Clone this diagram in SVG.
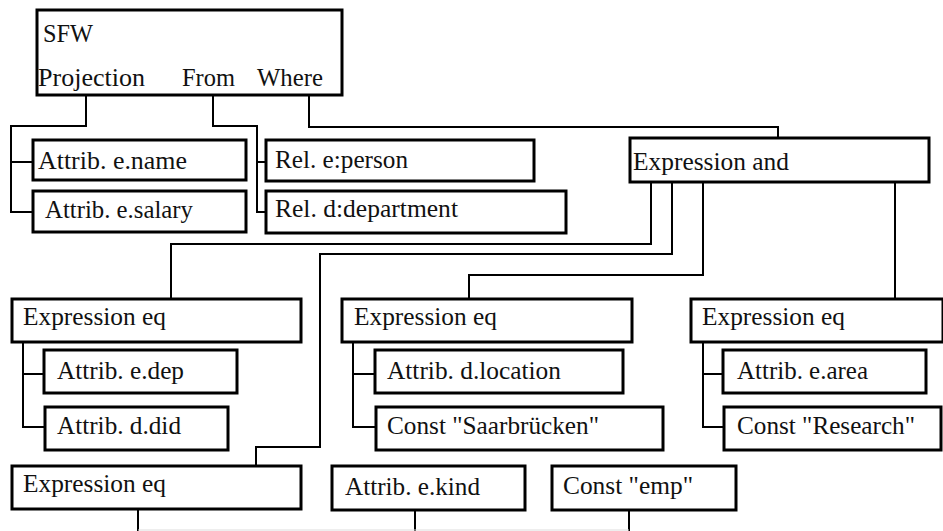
<svg xmlns="http://www.w3.org/2000/svg" width="943" height="531" viewBox="0 0 943 531">
<style>
.b{fill:#fff;stroke:#000;stroke-width:3}
.c{fill:none;stroke:#000;stroke-width:2}
</style>
<rect width="943" height="531" fill="#fff"/>
<g id="connectors">
<path class="c" d="M86 95V126H11V212H33M11 162H32"/>
<path class="c" d="M213 95V126H257V212H266M257 162H266"/>
<path class="c" d="M309 95V127H778V138"/>
<path class="c" d="M651 182V244H171V299"/>
<path class="c" d="M672 182V254H320V447H256V466"/>
<path class="c" d="M703 182V275H469V299"/>
<path class="c" d="M895 182V299"/>
<path class="c" d="M23 342V427H45M23 374H44"/>
<path class="c" d="M353 342V427H376M353 374H375"/>
<path class="c" d="M703 342V427H724M703 374H723"/>
<path class="c" d="M138 509V531M415 510V531M629 510V531"/>
<path d="M138 530H629" fill="none" stroke="#ddd" stroke-width="1"/>
</g>
<g font-family="Liberation Serif, DejaVu Serif, serif" font-size="24.5" fill="#111" lengthAdjust="spacingAndGlyphs">
<g id="sfw"><rect class="b" x="37" y="10" width="305" height="85"/>
<text x="43" y="41.5" textLength="50" lengthAdjust="spacingAndGlyphs">SFW</text>
<text x="38" y="86" textLength="107" lengthAdjust="spacingAndGlyphs">Projection</text>
<text x="182" y="86" textLength="53" lengthAdjust="spacingAndGlyphs">From</text>
<text x="257" y="86" textLength="66" lengthAdjust="spacingAndGlyphs">Where</text></g>
<g id="attr-ename"><rect class="b" x="33" y="140" width="213" height="40" stroke-width="4"/><text x="38" y="169" textLength="149" lengthAdjust="spacingAndGlyphs">Attrib. e.name</text></g>
<g id="attr-esalary"><rect class="b" x="33" y="191" width="213" height="41"/><text x="45" y="218" textLength="148" lengthAdjust="spacingAndGlyphs">Attrib. e.salary</text></g>
<g id="rel-eperson"><rect class="b" x="266" y="140" width="268" height="41"/><text x="275" y="168" textLength="133" lengthAdjust="spacingAndGlyphs">Rel. e:person</text></g>
<g id="rel-ddepartment"><rect class="b" x="266" y="191" width="300" height="42"/><text x="275" y="217" textLength="183" lengthAdjust="spacingAndGlyphs">Rel. d:department</text></g>
<g id="expr-and"><rect class="b" x="630" y="138" width="299" height="44"/><text x="633" y="170" textLength="156" lengthAdjust="spacingAndGlyphs">Expression and</text></g>
<g id="expr-eq1"><rect class="b" x="12" y="299" width="289" height="43"/><text x="23" y="325" textLength="143" lengthAdjust="spacingAndGlyphs">Expression eq</text></g>
<g id="expr-eq2"><rect class="b" x="342" y="299" width="290" height="43"/><text x="354" y="325" textLength="143" lengthAdjust="spacingAndGlyphs">Expression eq</text></g>
<g id="expr-eq3"><rect class="b" x="691" y="299" width="252" height="43"/><text x="702" y="325" textLength="143" lengthAdjust="spacingAndGlyphs">Expression eq</text></g>
<g id="attr-edep"><rect class="b" x="44" y="350" width="193" height="43"/><text x="57" y="379" textLength="127" lengthAdjust="spacingAndGlyphs">Attrib. e.dep</text></g>
<g id="attr-ddid"><rect class="b" x="45" y="407" width="183" height="43"/><text x="57" y="434" textLength="124" lengthAdjust="spacingAndGlyphs">Attrib. d.did</text></g>
<g id="attr-dlocation"><rect class="b" x="375" y="350" width="248" height="43" stroke-width="4"/><text x="387" y="379" textLength="174" lengthAdjust="spacingAndGlyphs">Attrib. d.location</text></g>
<g id="const-saarbruecken"><rect class="b" x="376" y="407" width="287" height="43" stroke-width="4"/><text x="387" y="434" textLength="212" lengthAdjust="spacingAndGlyphs">Const "Saarbrücken"</text></g>
<g id="attr-earea"><rect class="b" x="723" y="350" width="203" height="43" stroke-width="4"/><text x="737" y="379" textLength="131" lengthAdjust="spacingAndGlyphs">Attrib. e.area</text></g>
<g id="const-research"><rect class="b" x="724" y="407" width="217" height="43"/><text x="737" y="434" textLength="178" lengthAdjust="spacingAndGlyphs">Const "Research"</text></g>
<g id="expr-eq4"><rect class="b" x="12" y="466" width="289" height="43"/><text x="23" y="492" textLength="143" lengthAdjust="spacingAndGlyphs">Expression eq</text></g>
<g id="attr-ekind"><rect class="b" x="332" y="466" width="193" height="44"/><text x="345" y="495" textLength="135" lengthAdjust="spacingAndGlyphs">Attrib. e.kind</text></g>
<g id="const-emp"><rect class="b" x="552" y="466" width="184" height="44"/><text x="563" y="494" textLength="130" lengthAdjust="spacingAndGlyphs">Const "emp"</text></g>
</g>
</svg>
